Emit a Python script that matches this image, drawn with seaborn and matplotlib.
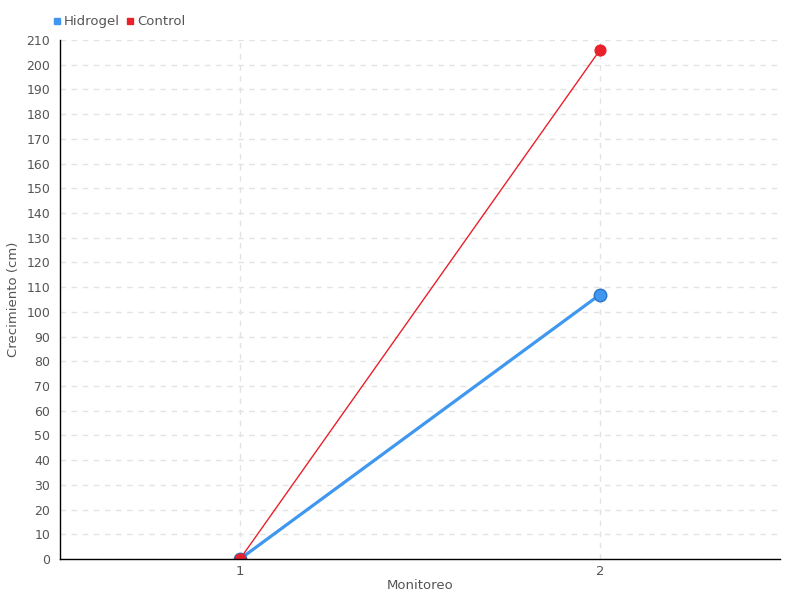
import pandas as pd
import seaborn as sns
import matplotlib.pyplot as plt

monitoreo = [1, 2]
hidrogel = [0, 107]
control = [0, 206]

df = pd.DataFrame({
    'Monitoreo': monitoreo * 2,
    'Crecimiento (cm)': hidrogel + control,
    'Serie': ['Hidrogel'] * len(monitoreo) + ['Control'] * len(monitoreo),
})

sns.set_style('white')
plt.rcParams['font.family'] = ['DejaVu Sans']

colors = {'Hidrogel': '#3f97ef', 'Control': '#e8212b'}

fig = plt.figure(figsize=(8, 6), dpi=100)
ax = fig.add_axes([0.075, 0.0683, 0.9, 0.865])

# Hidrogel thick line, Control thin line
sns.lineplot(data=df[df['Serie'] == 'Hidrogel'], x='Monitoreo', y='Crecimiento (cm)',
             color=colors['Hidrogel'], linewidth=2.3, marker='o', markersize=9,
             markeredgecolor='#2a74c8', markeredgewidth=1, ax=ax)
sns.lineplot(data=df[df['Serie'] == 'Control'], x='Monitoreo', y='Crecimiento (cm)',
             color=colors['Control'], linewidth=1, marker='o', markersize=8,
             markeredgecolor=colors['Control'], ax=ax)

ax.set_xlim(0.5, 2.5)
ax.set_ylim(0, 210)
ax.set_xticks(monitoreo)
ax.set_yticks(range(0, 211, 10))
ax.grid(True, linestyle=(0, (4, 4)), color='#e3e3e3', linewidth=1)
ax.set_axisbelow(True)
for s in ['top', 'right']:
    ax.spines[s].set_visible(False)
for s in ['left', 'bottom']:
    ax.spines[s].set_color('black')
    ax.spines[s].set_linewidth(1)
ax.tick_params(axis='both', length=5, color='#333333', labelcolor='#555555', labelsize=9, pad=2)
ax.tick_params(axis='x', direction='inout', length=8, pad=0, labelsize=9.5)
ax.set_xlabel('Monitoreo', color='#555555', fontsize=9.5, labelpad=1)
ax.set_ylabel('Crecimiento (cm)', color='#555555', fontsize=9.5)
ax.yaxis.set_label_coords(-0.056, 0.5)

handles = [plt.Line2D([], [], marker='s', linestyle='', color=colors[k], markersize=4.5)
           for k in ['Hidrogel', 'Control']]
fig.legend(handles, ['Hidrogel', 'Control'], loc='upper left', bbox_to_anchor=(0.055, 0.99),
           ncol=2, frameon=False, handlelength=0.6, handletextpad=0.2, columnspacing=0.5,
           prop={'size': 9.5}, labelcolor='#555555', borderaxespad=0.3)

fig.savefig('out.png', dpi=100)
